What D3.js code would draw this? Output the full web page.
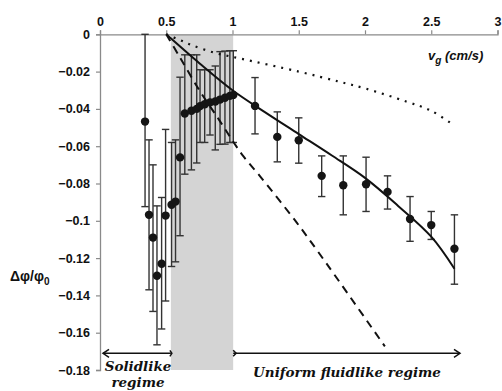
<!DOCTYPE html>
<html>
<head>
<meta charset="utf-8">
<script src="https://cdn.jsdelivr.net/npm/d3@7"></script>
<style>
  body { margin: 0; background: #fff; }
  svg { display: block; }
  .tick text { font-family: Arial, "Liberation Sans", sans-serif; font-weight: bold; font-size: 12.5px; fill: #111; }
</style>
</head>
<body>
<div id="chart"></div>
<script>
// measured points: gas velocity (cm/s) and relative change of packing fraction
const vg    = [0.34, 0.37, 0.40, 0.43, 0.465, 0.495, 0.54, 0.57, 0.604,
               0.64, 0.69, 0.73, 0.755, 0.79, 0.83, 0.87, 0.906, 0.943, 0.98, 1.006,
               1.17, 1.338, 1.50, 1.673, 1.836, 2.008, 2.17, 2.34, 2.50, 2.675];
const dphi  = [-0.0468, -0.0968, -0.109, -0.1295, -0.123, -0.0972, -0.0914, -0.0897, -0.066,
               -0.0425, -0.041, -0.040, -0.0385, -0.0375, -0.0365, -0.036, -0.035, -0.034, -0.033, -0.0325,
               -0.0384, -0.055, -0.0568, -0.0759, -0.0809, -0.0804, -0.0845, -0.099, -0.1023, -0.115];
// error bar ends (top / bottom)
const errTop = [0, -0.0566, -0.070, -0.092, -0.0875, -0.051, -0.058, -0.0566, -0.023,
                -0.011, -0.011, -0.011, -0.019, -0.019, -0.019, -0.017, -0.0093, -0.009, -0.0088, -0.0088,
                -0.0232, -0.0416, -0.0448, -0.0652, -0.0652, -0.0659, -0.0759, -0.087, -0.095, -0.0968];
const errBot = [-0.0924, -0.137, -0.1486, -0.1665, -0.158, -0.143, -0.1245, -0.122, -0.108,
                -0.075, -0.0727, -0.069, -0.058, -0.058, -0.054, -0.062, -0.059, -0.0589, -0.058, -0.058,
                -0.0534, -0.0684, -0.0691, -0.087, -0.0968, -0.095, -0.0937, -0.111, -0.110, -0.134];

// model curves
const fitV   = [0.5, 0.75, 1.0, 1.25, 1.5, 1.75, 2.0, 2.25, 2.5, 2.675];
const fitY   = [0, -0.0155, -0.030, -0.042, -0.0535, -0.065, -0.077, -0.092, -0.1085, -0.1257];
const dotV   = [0.5, 0.6, 0.7, 0.87, 1.06, 1.5, 1.81, 2.0, 2.31, 2.5, 2.667];
const dotY   = [0, -0.003, -0.006, -0.010, -0.013, -0.020, -0.0255, -0.029, -0.036, -0.041, -0.0486];
const dashV  = [0.5, 0.6, 0.75, 0.9, 1.0, 1.08, 1.21, 1.485, 1.65, 2.15];
const dashY  = [0, -0.012, -0.030, -0.046, -0.057, -0.0652, -0.0763, -0.101, -0.117, -0.1673];

const xTicks = [0, 0.5, 1, 1.5, 2, 2.5, 3];
const yTicks = [0, -0.02, -0.04, -0.06, -0.08, -0.1, -0.12, -0.14, -0.16, -0.18];
const band = [0.535, 1.005];

const width = 502, height = 391;
const svg = d3.select("#chart").append("svg")
    .attr("width", width).attr("height", height);

const x = d3.scaleLinear().domain([0, 3]).range([100, 497.5]);
const y = d3.scaleLinear().domain([0, -0.18]).range([34.3, 370]);

// shaded transition region
svg.append("rect")
    .attr("x", x(band[0])).attr("y", y(0))
    .attr("width", x(band[1]) - x(band[0]))
    .attr("height", y(-0.18) - y(0))
    .attr("fill", "#d4d4d4");

// axes
const xAxis = svg.append("g")
    .attr("transform", "translate(0," + y(0) + ")")
    .call(d3.axisTop(x).tickValues(xTicks).tickSize(4).tickPadding(4)
        .tickFormat(d3.format("")));
const yAxis = svg.append("g")
    .attr("transform", "translate(" + x(0) + ",0)")
    .call(d3.axisLeft(y).tickValues(yTicks).tickSize(4).tickPadding(6)
        .tickFormat((d) => d === 0 ? "0" : d3.format("")(+d.toFixed(2))));
[xAxis, yAxis].forEach((g) => {
    g.select(".domain").attr("stroke", "#8a8a8a").attr("stroke-width", 1.3);
    g.selectAll(".tick line").attr("stroke", "#8a8a8a").attr("stroke-width", 1.2);
});

const pts = vg.map((v, i) => ({ v: v, d: dphi[i], top: errTop[i], bot: errBot[i] }));

// error bars
const eb = svg.append("g").attr("stroke", "#333").attr("stroke-width", 1.4);
pts.forEach((p) => {
    eb.append("line").attr("x1", x(p.v)).attr("x2", x(p.v))
        .attr("y1", y(p.top)).attr("y2", y(p.bot));
    [p.top, p.bot].forEach((e) => {
        eb.append("line").attr("x1", x(p.v) - 3.7).attr("x2", x(p.v) + 3.7)
            .attr("y1", y(e)).attr("y2", y(e));
    });
});

// model lines
const line = d3.line().x((d) => x(d[0])).y((d) => y(d[1])).curve(d3.curveCatmullRom);
const zip = (a, b) => a.map((v, i) => [v, b[i]]);
svg.append("path").attr("d", line(zip(fitV, fitY)))
    .attr("fill", "none").attr("stroke", "#111").attr("stroke-width", 2);
svg.append("path").attr("d", line(zip(dotV, dotY)))
    .attr("fill", "none").attr("stroke", "#111").attr("stroke-width", 2.2)
    .attr("stroke-dasharray", "2,6");
svg.append("path").attr("d", line(zip(dashV, dashY)))
    .attr("fill", "none").attr("stroke", "#111").attr("stroke-width", 2)
    .attr("stroke-dasharray", "8,6");

// data points
svg.append("g").selectAll("circle")
    .data(pts).enter().append("circle")
    .attr("cx", (d) => x(d.v)).attr("cy", (d) => y(d.d))
    .attr("r", 4.2).attr("fill", "#151515");

// axis titles
const vt = svg.append("text").attr("x", 428).attr("y", 60)
    .style("font-family", "Arial, 'Liberation Sans', sans-serif")
    .style("font-weight", "bold").style("font-style", "italic").style("font-size", "13px")
    .attr("fill", "#111");
vt.append("tspan").text("v");
vt.append("tspan").attr("dy", 4).style("font-size", "10px").text("g");
vt.append("tspan").attr("dy", -4).text(" (cm/s)");

const yt = svg.append("text").attr("x", 10).attr("y", 281)
    .style("font-family", "Arial, 'Liberation Sans', sans-serif")
    .style("font-weight", "bold").style("font-size", "14px")
    .attr("fill", "#111");
yt.append("tspan").text("Δφ/φ");
yt.append("tspan").attr("dy", 4).style("font-size", "10px").text("0");

// regime arrows
const ay = 353.3;
const ar = svg.append("g").attr("stroke", "#111").attr("stroke-width", 1.5).attr("fill", "none");
ar.append("line").attr("x1", 103).attr("x2", x(band[0])).attr("y1", ay).attr("y2", ay);
ar.append("path").attr("d", `M${109},${ay - 4} L${103},${ay} L${109},${ay + 4}`);
ar.append("path").attr("d", `M${x(band[0]) - 1},${ay - 3} L${x(band[0]) + 1},${ay} L${x(band[0]) - 1},${ay + 3}`);
ar.append("line").attr("x1", x(band[1])).attr("x2", 460).attr("y1", ay).attr("y2", ay);
ar.append("path").attr("d", `M${454},${ay - 4} L${460},${ay} L${454},${ay + 4}`);
ar.append("path").attr("d", `M${x(band[1])},${ay - 3} L${x(band[1]) + 3},${ay} L${x(band[1])},${ay + 3}`);

const regimeFont = (t) => t.style("font-family", "'DejaVu Serif', 'Liberation Serif', serif")
    .style("font-weight", "bold").style("font-style", "italic").style("font-size", "13.5px")
    .attr("fill", "#111").attr("text-anchor", "middle");
svg.append("text").attr("x", 138).attr("y", 371).text("Solidlike").call(regimeFont);
svg.append("text").attr("x", 138).attr("y", 387).text("regime").call(regimeFont);
svg.append("text").attr("x", 347).attr("y", 377).text("Uniform fluidlike regime").call(regimeFont);
</script>
</body>
</html>
